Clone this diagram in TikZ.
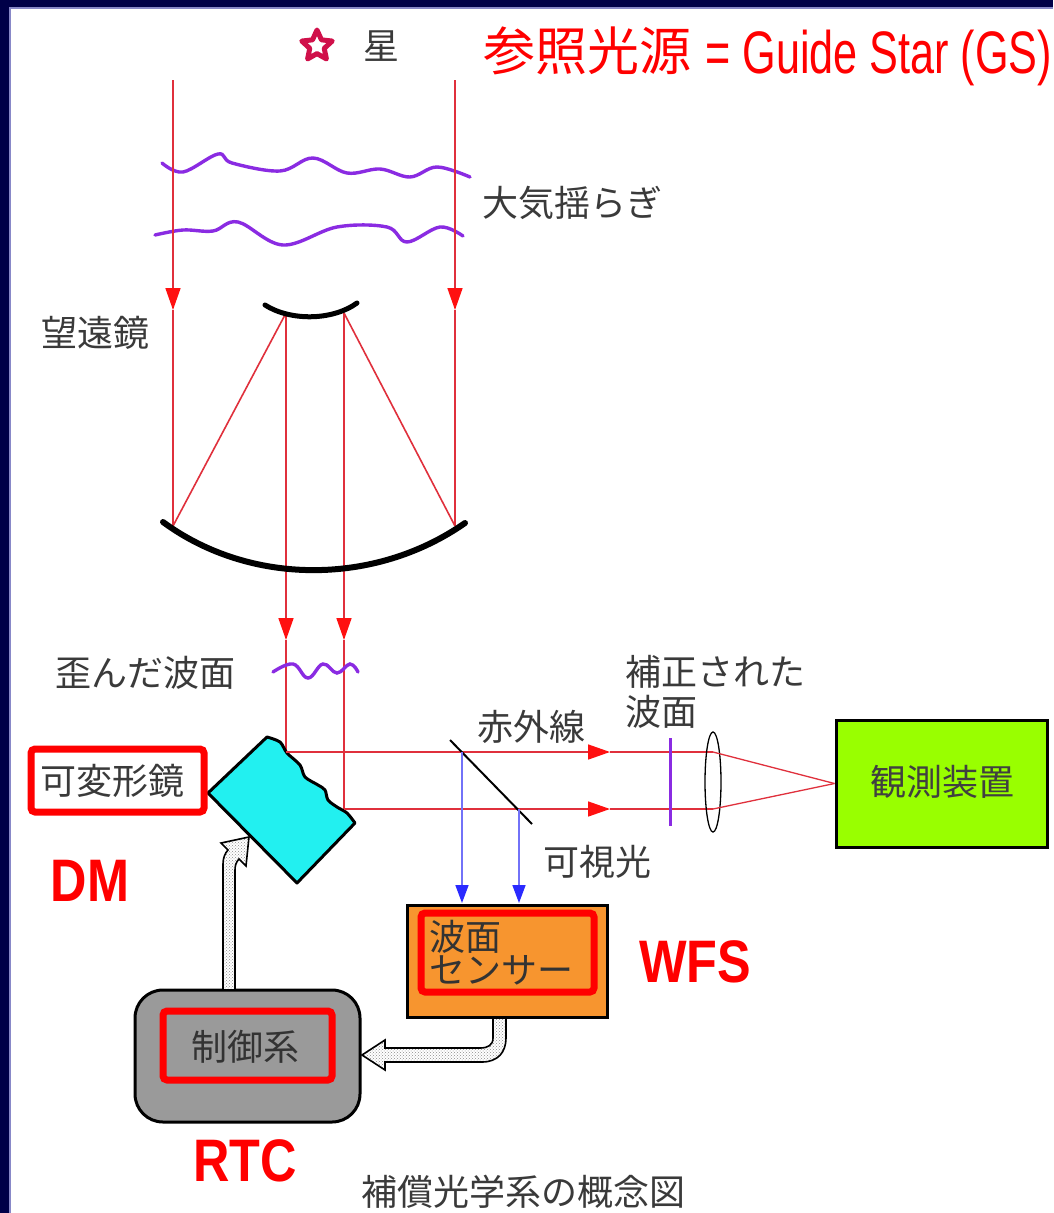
\documentclass[tikz,border=0pt]{standalone}
\usepackage{fontspec}
\usetikzlibrary{arrows.meta,shapes.geometric,patterns}
\newfontfamily\jp{Noto Sans CJK JP}
\newfontfamily\titlefont[FakeStretch=0.72]{Liberation Sans}
\newfontfamily\tagfont[FakeStretch=0.84]{Liberation Sans Bold}
\definecolor{navy}{HTML}{000048}
\definecolor{edgeblue}{HTML}{8888C8}
\definecolor{raycol}{HTML}{E0303C}
\definecolor{tipred}{HTML}{FF1010}
\definecolor{wave}{HTML}{8A2BE2}
\definecolor{labelgray}{HTML}{3A3A3A}
\definecolor{starred}{HTML}{D0104A}
\definecolor{dmcyan}{HTML}{22F0F0}
\definecolor{wfsorange}{HTML}{F7952F}
\definecolor{instgreen}{HTML}{99FF00}
\definecolor{rtcgray}{HTML}{9A9A9A}
\definecolor{bluebeam}{HTML}{3535F5}
\definecolor{bluearrow}{HTML}{2A2AFF}
\tikzset{
  ray/.style={draw=raycol, line width=1.6},
  raytip/.style={ray, -{Triangle[length=22,width=15,color=tipred]}},
  bluetip/.style={draw=bluebeam!70, line width=1.6, -{Triangle[length=18,width=13,color=bluearrow]}},
  wavy/.style={draw=wave, line width=3.4, line cap=round},
  mirror/.style={draw=black, line width=5, line cap=round},
  jplabel/.style={font=\jp\fontsize{36}{40}\selectfont, text=labelgray, inner sep=0},
  tag/.style={font=\tagfont\fontsize{60}{64}\selectfont, text=red, inner sep=0},
  redframe/.style={draw=red, line width=7, rounded corners=4},
  fatarrow/.style={draw=black, line width=1.6, preaction={fill=white}, pattern=crosshatch dots, pattern color=gray!90},
}
\begin{document}
\begin{tikzpicture}[x=1pt,y=-1pt]
\useasboundingbox (0,0) rectangle (1053,1213);
% page and frame
\fill[white] (0,0) rectangle (1053,1213);
\fill[navy] (0,0) rectangle (1053,7);
\fill[navy] (0,0) rectangle (9,1213);
\draw[edgeblue, line width=1.5] (9.75,1213) -- (9.75,7.75) -- (1053,7.75);

% star and title
\node[star, star points=5, star point ratio=2.1, draw=starred, line width=5, line join=round, minimum size=32, inner sep=0] (star) at (317,46) {};
\node[jplabel] (starlbl) at (381,46) {星};
\node[font=\jp\fontsize{52}{56}\selectfont, text=red, inner sep=0, anchor=base west] (gsjp) at (483,70) {参照光源};
\node[font=\titlefont\fontsize{60}{64}\selectfont, text=red, inner sep=0, anchor=base west] (gsen) at (705,73) {= Guide Star (GS)};

% key points of the optical path
\coordinate (inL) at (173,80);
\coordinate (inR) at (455,80);
\coordinate (tipL) at (173,310);
\coordinate (tipR) at (455,310);
\coordinate (pmL) at (173,526);
\coordinate (pmR) at (455,526);
\coordinate (smL) at (286,313);
\coordinate (smR) at (344,313);
\coordinate (dnL) at (286,640);
\coordinate (dnR) at (344,640);
\coordinate (dmA) at (286,752);
\coordinate (dmB) at (344,809);
\coordinate (bsA) at (462,752);
\coordinate (bsB) at (519,809);
\coordinate (hA) at (610,752);
\coordinate (hB) at (610,809);
\coordinate (lensA) at (713,752);
\coordinate (lensB) at (713,809);

% atmospheric turbulence
\draw[wavy] plot[smooth, tension=0.6] coordinates {(162,163) (183,172) (218,154) (232,163) (280,171) (313,158) (347,173) (380,169) (410,177) (437,167) (470,177)};
\draw[wavy] plot[smooth, tension=0.6] coordinates {(155,235) (183,230) (213,231) (238,222) (283,245) (337,227) (387,227) (407,242) (440,227) (463,236)};
\node[jplabel] (atm) at (572,203) {大気揺らぎ};
\node[jplabel] (tele) at (95,333) {望遠鏡};

% incoming rays
\draw[raytip] (inL) -- (tipL);
\draw[ray] (tipL) -- (pmL);
\draw[raytip] (inR) -- (tipR);
\draw[ray] (tipR) -- (pmR);
\draw[ray] (pmL) -- (smL);
\draw[ray] (pmR) -- (smR);
\draw[raytip] (smL) -- (dnL);
\draw[ray] (dnL) -- (dmA);
\draw[raytip] (smR) -- (dnR);
\draw[ray] (dnR) -- (dmB);

% telescope mirrors
\draw[mirror] (265,305) .. controls (290,321) and (332,321) .. (357,303);
\draw[mirror, line width=6] (163,522) .. controls (250,586) and (375,586) .. (465,523);

% distorted wavefront
\draw[wavy] plot[smooth, tension=0.7] coordinates {(273,672) (293,664) (308,678) (323,664) (337,673) (350,664) (358,672)};
\node[jplabel] (distlbl) at (145,673) {歪んだ波面};

% deformable mirror
\draw[draw=black, line width=3, fill=dmcyan, line join=round] (208,793) -- (267,737)
  -- plot[smooth, tension=0.5] coordinates {(267,737) (280,742) (287,753) (300,765) (305,777) (318,785) (325,790) (328,800) (337,807) (347,813) (355,823)}
  -- (297,883) -- cycle;
\node[jplabel] (dmlbl) at (112,781) {可変形鏡};
\draw[redframe] (31,749) rectangle (204,812);
\node[tag] (dmtag) at (90,881) {DM};

% beams after the deformable mirror
\draw[raytip] (dmA) -- (hA);
\draw[ray] (hA) -- (lensA);
\draw[raytip] (dmB) -- (hB);
\draw[ray] (hB) -- (lensB);
\node[jplabel] (irlbl) at (531,727) {赤外線};
\node[jplabel] (vislbl) at (597,862) {可視光};

% dichroic beam splitter and visible light to the sensor
\draw[black, line width=2] (450,740) -- (532,824);
\coordinate (wfsA) at (462,903);
\coordinate (wfsB) at (519,903);
\draw[bluetip] (bsA) -- (wfsA);
\draw[bluetip] (bsB) -- (wfsB);

% corrected wavefront and lens
\draw[draw=wave, line width=3] (670,738) -- (670,826);
\node[jplabel, anchor=west] (corr1) at (625,672) {補正された};
\node[jplabel, anchor=west] (corr2) at (625,712) {波面};
\draw[black, line width=1.3] (713,782) ellipse [x radius=8, y radius=50];

% science instrument
\node[draw=black, line width=3, fill=instgreen, minimum width=211, minimum height=127, inner sep=0] (inst) at (941.5,783.5) {};
\node[jplabel, text=black!75] (instlbl) at (942,782) {観測装置};
\draw[ray, line width=1.3] (lensA) -- (inst.west);
\draw[ray, line width=1.3] (lensB) -- (inst.west);

% wavefront sensor
\node[draw=black, line width=3, fill=wfsorange, minimum width=200, minimum height=112, inner sep=0] (wfs) at (507,961) {};
\draw[redframe] (421,913) rectangle (594,992);
\node[jplabel, anchor=west, text=black!80] (wfs1) at (429,937) {波面};
\node[jplabel, anchor=west, text=black!80] (wfs2) at (429,970) {センサー};
\node[tag] (wfstag) at (695,962) {WFS};

% real-time controller
\node[draw=black, line width=3, fill=rtcgray, rounded corners=28, minimum width=225, minimum height=132, inner sep=0] (rtc) at (247.5,1056) {};
\draw[redframe] (163,1011) rectangle (332,1080);
\node[jplabel, text=black!80] (rtclbl) at (245,1047) {制御系};
\node[tag] (rtctag) at (245,1161) {RTC};

% signal paths
\draw[fatarrow] (493,1018) -- (493,1038) .. controls (493,1045) and (488,1048) .. (480,1048)
  -- (385,1048) -- (385,1040) -- (362,1055) -- (385,1070) -- (385,1062) -- (482,1062)
  .. controls (498,1062) and (506,1052) .. (506,1038) -- (506,1018) -- cycle;
\draw[fatarrow] (223,990) -- (223,864) .. controls (223,858) and (225,853) .. (228,850)
  -- (221,843) -- (249,837) -- (246,866) -- (239,859)
  .. controls (236,862) and (235,866) .. (235,870) -- (235,990) -- cycle;

% caption
\node[jplabel] (caption) at (523,1192) {補償光学系の概念図};
\end{tikzpicture}
\end{document}
